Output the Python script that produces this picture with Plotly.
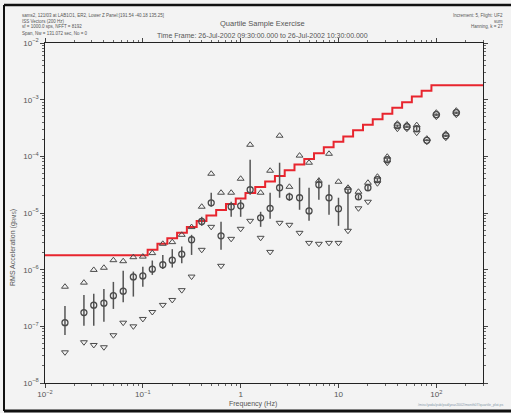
import plotly.graph_objects as go

# 1/3-octave band centre frequencies (Hz)
freqs = [0.016, 0.025, 0.0315, 0.04, 0.05, 0.063, 0.08, 0.1, 0.125, 0.16, 0.2, 0.25,
         0.315, 0.4, 0.5, 0.63, 0.8, 1.0, 1.25, 1.6, 2.0, 2.5, 3.15, 4.0, 5.0, 6.3, 8.0,
         10.0, 12.5, 16.0, 20.0, 25.0, 31.5, 40.0, 50.0, 63.0, 80.0, 100.0, 125.0, 160.0]

rms_max = [5.0e-7, 5.9e-7, 9.9e-7, 1.08e-6, 1.47e-6, 1.41e-6, 1.66e-6, 1.70e-6, 1.96e-6,
           2.86e-6, 3.06e-6, 4.12e-6, 5.64e-6, 1.29e-5, 4.93e-5, 2.28e-5, 2.28e-5, 4.02e-5,
           1.60e-4, 2.28e-5, 5.57e-5, 2.31e-4, 2.90e-5, 1.03e-4, 7.71e-5, 3.71e-5, 1.11e-4,
           3.56e-5, 2.79e-5, 2.37e-5, 3.42e-5, 4.37e-5, 9.84e-5, 3.77e-4, 3.62e-4, 3.55e-4,
           2.05e-4, 5.89e-4, 2.50e-4, 6.40e-4]

rms_q75 = [2.29e-7, 3.59e-7, 3.74e-7, 4.58e-7, 6.08e-7, 9.53e-7, 9.25e-7, 1.13e-6, 1.45e-6,
           1.82e-6, 2.30e-6, 2.56e-6, 4.12e-6, 8.57e-6, 2.28e-5, 7.0e-6, 1.58e-5, 1.71e-5,
           8.71e-5, 1.05e-5, 2.28e-5, 7.71e-5, 2.28e-5, 4.19e-5, 2.79e-5, 4.19e-5, 3.15e-5,
           1.86e-5, 2.57e-5, 2.1e-5, 3.1e-5, 4.1e-5, 9.2e-5, 3.6e-4, 3.45e-4, 3.3e-4,
           2.0e-4, 5.7e-4, 2.4e-4, 6.1e-4]

rms_median = [1.16e-7, 1.75e-7, 2.36e-7, 2.56e-7, 3.48e-7, 4.17e-7, 7.46e-7, 7.76e-7, 1.02e-6,
              1.22e-6, 1.47e-6, 1.88e-6, 3.37e-6, 7.08e-6, 1.51e-5, 3.95e-6, 1.29e-5, 1.34e-5,
              2.57e-5, 8.22e-6, 1.21e-5, 2.79e-5, 1.93e-5, 1.86e-5, 1.09e-5, 3.15e-5, 1.86e-5,
              1.19e-5, 2.52e-5, 1.93e-5, 2.79e-5, 3.87e-5, 8.71e-5, 3.48e-4, 3.33e-4, 3.07e-4,
              1.92e-4, 5.43e-4, 2.31e-4, 5.89e-4]

rms_q25 = [7.05e-8, 1.02e-7, 1.02e-7, 1.21e-7, 2.03e-7, 2.67e-7, 3.35e-7, 5.02e-7, 8.09e-7,
           1.03e-6, 1.09e-6, 1.30e-6, 1.82e-6, 5.94e-6, 1.29e-5, 2.24e-6, 8.57e-6, 8.57e-6,
           2.10e-5, 5.70e-6, 7.91e-6, 1.86e-5, 1.64e-5, 1.14e-5, 7.28e-6, 1.71e-5, 9.29e-6,
           5.94e-6, 5.05e-6, 1.7e-5, 2.5e-5, 3.6e-5, 8.2e-5, 3.3e-4, 3.2e-4, 2.85e-4,
           1.85e-4, 5.2e-4, 2.2e-4, 5.6e-4]

rms_min = [3.48e-8, 5.24e-8, 4.69e-8, 4.28e-8, 6.97e-8, 1.16e-7, 1.0e-7, 1.35e-7, 1.79e-7,
           2.39e-7, 2.92e-7, 4.35e-7, 7.55e-7, 2.24e-6, 5.70e-6, 1.17e-6, 3.50e-6, 5.26e-6,
           7.28e-6, 3.65e-6, 2.06e-6, 6.71e-6, 6.19e-6, 4.47e-6, 2.97e-6, 2.86e-6, 2.97e-6,
           2.97e-6, 4.86e-6, 1.21e-5, 1.58e-5, 3.35e-5, 7.71e-5, 3.07e-4, 3.07e-4, 2.61e-4,
           1.81e-4, 5.01e-4, 2.13e-4, 5.43e-4]

# ISS vibratory requirement (stepped, 1/3-octave bands)
req_freq = [0.01, 0.112, 0.141, 0.178, 0.224, 0.282, 0.355, 0.447, 0.562, 0.708, 0.891,
            1.12, 1.41, 1.78, 2.24, 2.82, 3.55, 4.47, 5.62, 7.08, 8.91, 11.2, 14.1, 17.8,
            22.4, 28.2, 35.5, 44.7, 56.2, 70.8, 89.1, 300.0]
req_level = [1.8e-6, 2.25e-6, 2.88e-6, 3.6e-6, 4.5e-6, 5.67e-6, 7.2e-6, 9.0e-6, 1.134e-5,
             1.44e-5, 1.8e-5, 2.25e-5, 2.88e-5, 3.6e-5, 4.5e-5, 5.67e-5, 7.2e-5, 9.0e-5,
             1.134e-4, 1.44e-4, 1.8e-4, 2.25e-4, 2.88e-4, 3.6e-4, 4.5e-4, 5.67e-4, 7.2e-4,
             9.0e-4, 1.134e-3, 1.44e-3, 1.8e-3, 1.8e-3]

W, H = 511, 413
L, R, T, B = 45, 483, 43, 383


def px(x):
    return (x - L) / (R - L)


def py(y):
    return (B - y) / (B - T)


FONT = "Liberation Sans, Arial, sans-serif"
GRAY = "#555555"
MK = "#4a4a4a"

fig = go.Figure()

fig.add_trace(go.Scatter(x=req_freq, y=req_level, mode="lines", line_shape="hv",
                         line=dict(color="#e8252e", width=2), hoverinfo="skip"))

fig.add_trace(go.Scatter(x=freqs, y=rms_max, mode="markers",
                         marker=dict(symbol="triangle-up-open", size=6,
                                     color=MK, line=dict(width=1, color=MK))))
fig.add_trace(go.Scatter(x=freqs, y=rms_min, mode="markers",
                         marker=dict(symbol="triangle-down-open", size=6,
                                     color=MK, line=dict(width=1, color=MK))))

plus = [a - m for a, m in zip(rms_q75, rms_median)]
minus = [m - b for m, b in zip(rms_median, rms_q25)]
fig.add_trace(go.Scatter(x=freqs, y=rms_median, mode="markers",
                         marker=dict(symbol="circle-open", size=6, color=MK,
                                     line=dict(width=1.3, color=MK)),
                         error_y=dict(type="data", symmetric=False, array=plus,
                                      arrayminus=minus, width=0, thickness=1.5,
                                      color="#555555")))

axis_common = dict(type="log", showline=True, linecolor="#222222", linewidth=1,
                   mirror="ticks", ticks="outside", ticklen=4, tickcolor="#444444",
                   tickwidth=1, showgrid=False, zeroline=False, dtick=1,
                   exponentformat="power",
                   tickfont=dict(family=FONT, size=6.5, color=GRAY),
                   minor=dict(ticks="outside", ticklen=2, tickcolor="#666666",
                              dtick="D1", showgrid=False))

fig.update_xaxes(range=[-2, 2.4771], **axis_common)
fig.update_yaxes(range=[-8, -2], **axis_common)

ann = []


def text(x, y, s, size=7, xanchor="center", angle=0, color=GRAY):
    ann.append(dict(x=px(x), y=py(y), xref="paper", yref="paper", text=s,
                    showarrow=False, xanchor=xanchor, yanchor="middle",
                    textangle=angle, font=dict(family=FONT, size=size, color=color)))


text(262, 24, "Quartile Sample Exercise", size=7.5)
text(262, 35.5, "Time Frame: 26-Jul-2002 09:30:00.000 to 26-Jul-2002 10:30:00.000", size=7)
tl = ["sams2, 121f03 at LAB1O1, ER2, Lower Z Panel:[191.54 -40.18 135.25]",
      "ISS Vectors (200 Hz)",
      "sf = 1000.0 sps, NFFT = 8192",
      "Span, Nw = 131.072 sec, No = 0"]
for i, s in enumerate(tl):
    text(20, 15 + i * 6, s, size=4.5, xanchor="left")
tr = ["Increment: 5, Flight: UF2", "sum", "Hanning, k = 27"]
for i, s in enumerate(tr):
    text(505, 15 + i * 6, s, size=4.5, xanchor="right")
text(13, 248, "RMS Acceleration (g<sub>RMS</sub>)", size=7, angle=-90)
text(253, 404, "Frequency (Hz)", size=7)
text(505, 405, "/misc/yoda/pub/pad/year2002/month07/quartile_plot.ps", size=3.5,
     xanchor="right", color="#8899aa")

shapes = [
    dict(type="line", xref="paper", yref="paper", x0=px(4), x1=px(515), y0=py(5), y1=py(5),
         line=dict(color="#111111", width=2.5)),
    dict(type="line", xref="paper", yref="paper", x0=px(4), x1=px(515), y0=py(411), y1=py(411),
         line=dict(color="#111111", width=3)),
    dict(type="line", xref="paper", yref="paper", x0=px(4), x1=px(4), y0=py(5), y1=py(411),
         line=dict(color="#111111", width=2)),
]

fig.update_layout(width=W, height=H, margin=dict(l=L, r=W - R, t=T, b=H - B),
                  paper_bgcolor="#f3f3f3", plot_bgcolor="#f3f3f3",
                  showlegend=False, annotations=ann, shapes=shapes,
                  font=dict(family=FONT))

fig.write_html("out.html")
